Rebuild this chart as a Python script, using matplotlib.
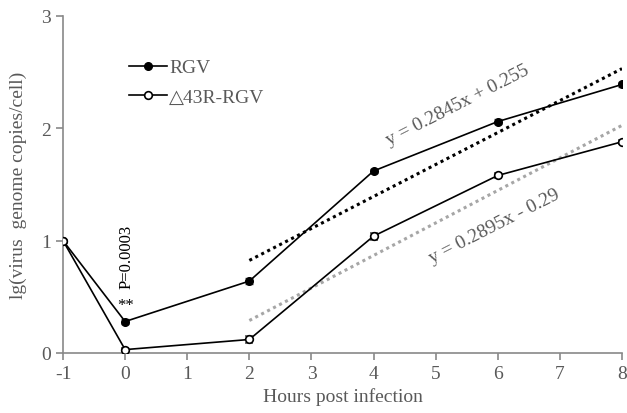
import matplotlib
matplotlib.use("Agg")
import matplotlib.pyplot as plt
from matplotlib.lines import Line2D
import numpy as np

hours = [-1, 0, 2, 4, 6, 8]
rgv = [1.0, 0.28, 0.64, 1.62, 2.06, 2.39]
rgv_err = [0.0, 0.02, 0.03, 0.02, 0.02, 0.02]
mut = [1.0, 0.03, 0.12, 1.04, 1.58, 1.88]
mut_err = [0.0, 0.01, 0.03, 0.03, 0.02, 0.02]
fit_x = [2, 8]
rgv_fit = (0.2845, 0.255)
mut_fit = (0.2895, -0.29)
xticks = [-1, 0, 1, 2, 3, 4, 5, 6, 7, 8]
yticks = [0, 1, 2, 3]

plt.rcParams['font.family'] = ['Liberation Serif', 'DejaVu Serif']
plt.rcParams['axes.unicode_minus'] = False
txt = '#595959'
axc = '#898989'

fig = plt.figure(figsize=(6.27, 4.14), dpi=100)
ax = fig.add_axes([0.1005, 0.145, 0.8915, 0.814])

fx = np.array(fit_x, dtype=float)
ax.plot(fx, rgv_fit[0] * fx + rgv_fit[1], color='black', ls=(0, (1, 1.2)), lw=2.2)
ax.plot(fx, mut_fit[0] * fx + mut_fit[1], color='#a6a6a6', ls=(0, (1, 1.2)), lw=2.2)

ax.errorbar(hours, rgv, yerr=rgv_err, color='black', lw=1.2, marker='o', ms=5.5,
            mfc='black', mec='black', ecolor='#595959', elinewidth=1, capsize=3, zorder=3)
ax.errorbar(hours, mut, yerr=mut_err, color='black', lw=1.2, marker='o', ms=5.5,
            mfc='white', mec='black', mew=1.2, ecolor='#595959', elinewidth=1, capsize=3, zorder=3)

ax.set_xlim(-1, 8)
ax.set_ylim(0, 3)
ax.set_xticks(xticks)
ax.set_yticks(yticks)
for s in ['top', 'right']:
    ax.spines[s].set_visible(False)
for s in ['left', 'bottom']:
    ax.spines[s].set_color(axc)
    ax.spines[s].set_linewidth(1.2)
ax.tick_params(axis='both', colors=axc, labelcolor=txt, labelsize=14, length=5, width=1.2)
ax.set_xlabel('Hours post infection', fontsize=14, color=txt, labelpad=4)
ax.set_ylabel('lg(virus  genome copies/cell)', fontsize=14, color=txt, labelpad=10)

handles = [
    Line2D([], [], color='black', lw=1.2, marker='o', ms=5.5, mfc='black', mec='black'),
    Line2D([], [], color='black', lw=1.2, marker='o', ms=5.5, mfc='white', mec='black', mew=1.2),
]
ax.legend(handles, ['RGV', '\u25b343R-RGV'], loc='upper left', bbox_to_anchor=(0.086, 0.925),
          frameon=False, fontsize=14, handlelength=2.0, handletextpad=0.1, labelspacing=0.6,
          labelcolor=txt)

ax.text(0.02, 0.86, 'P=0.0003', rotation=90, fontsize=12, color='black', ha='center', va='center')
ax.text(0.0, 0.43, '**', fontsize=12, color='black', ha='center', va='center')
ax.text(5.35, 2.21, 'y = 0.2845x + 0.255', rotation=27, fontsize=14, color=txt, ha='center', va='center')
ax.text(5.95, 1.13, 'y = 0.2895x - 0.29', rotation=27, fontsize=14, color=txt, ha='center', va='center')

fig.savefig('out.png', dpi=100)
